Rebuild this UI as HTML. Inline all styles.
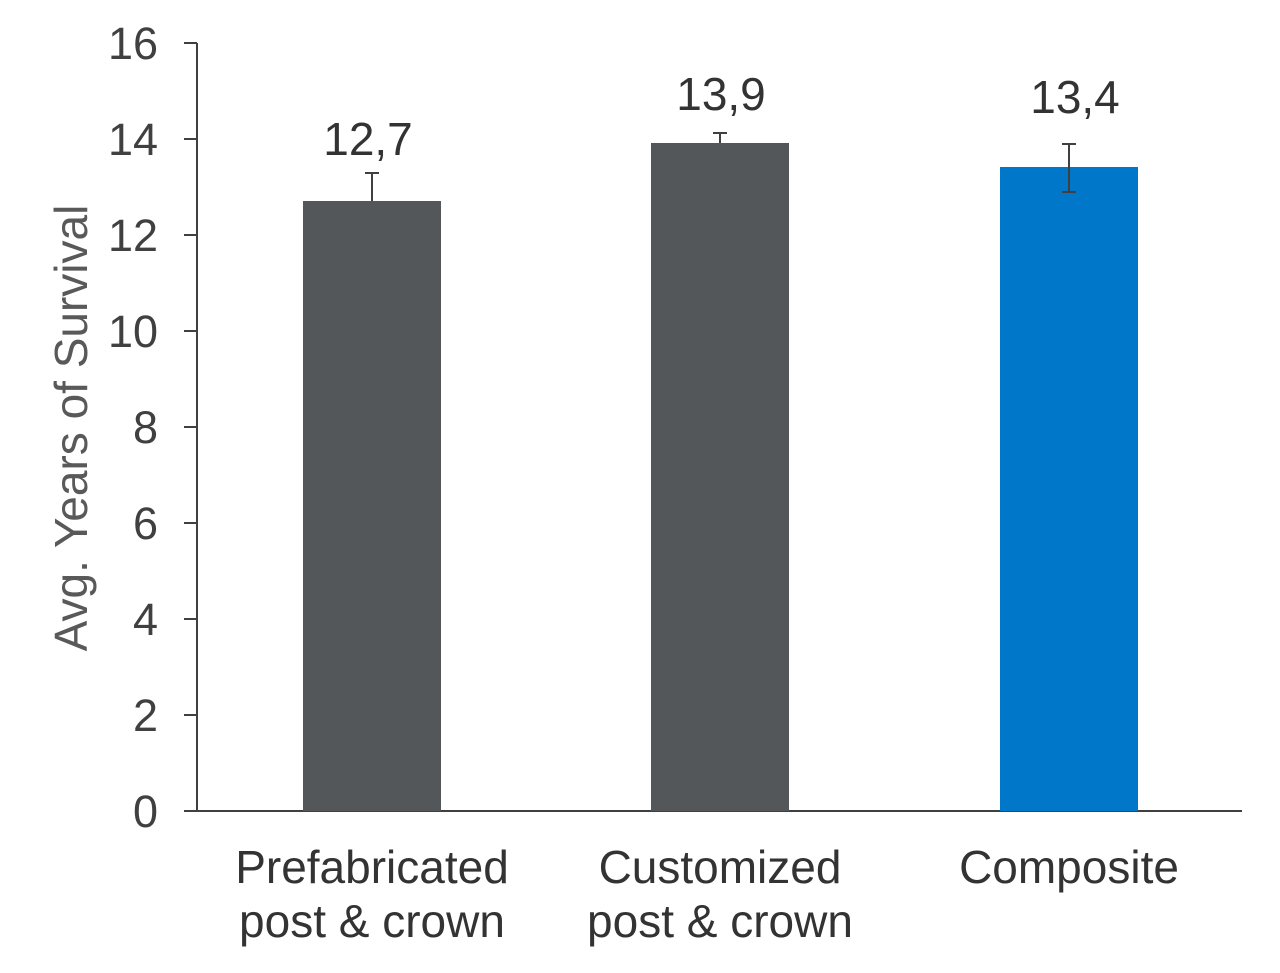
<!DOCTYPE html>
<html><head><style>body{margin:0;background:#fff}</style></head><body>
<svg width="1280" height="968" xmlns="http://www.w3.org/2000/svg" font-family="Liberation Sans, sans-serif">
<rect width="1280" height="968" fill="#fff"/>
<g stroke="#404040" stroke-width="2">
<line x1="197" y1="43" x2="197" y2="812"/>
<line x1="184" y1="811" x2="1242" y2="811"/>
<line x1="184" y1="43" x2="197" y2="43"/><line x1="184" y1="139" x2="197" y2="139"/>
<line x1="184" y1="235" x2="197" y2="235"/><line x1="184" y1="331" x2="197" y2="331"/>
<line x1="184" y1="427" x2="197" y2="427"/><line x1="184" y1="523" x2="197" y2="523"/>
<line x1="184" y1="619" x2="197" y2="619"/><line x1="184" y1="715" x2="197" y2="715"/>
</g>
<g font-size="45" fill="#404040" text-anchor="end">
<text x="158" y="59">16</text><text x="158" y="155">14</text><text x="158" y="251">12</text>
<text x="158" y="347">10</text><text x="158" y="443">8</text><text x="158" y="539">6</text>
<text x="158" y="635">4</text><text x="158" y="731">2</text><text x="158" y="827">0</text>
</g>
<text transform="translate(87,428) rotate(-90)" font-size="46" fill="#595959" text-anchor="middle">Avg. Years of Survival</text>
<rect x="303" y="201" width="138" height="610" fill="#53575a"/>
<rect x="651" y="143" width="138" height="668" fill="#53575a"/>
<rect x="1000" y="167" width="138" height="644" fill="#0077c8"/>
<g stroke="#404040" stroke-width="2">
<line x1="372" y1="173" x2="372" y2="201"/><line x1="365" y1="173" x2="379" y2="173"/>
<line x1="720" y1="133" x2="720" y2="143"/><line x1="713" y1="133" x2="727" y2="133"/>
<line x1="1069" y1="144" x2="1069" y2="192"/><line x1="1062" y1="144" x2="1076" y2="144"/><line x1="1062" y1="192" x2="1076" y2="192"/>
</g>
<g font-size="46" fill="#333" text-anchor="middle">
<text x="368" y="155">12,7</text><text x="721" y="110">13,9</text><text x="1075" y="113">13,4</text>
</g>
<g font-size="46" fill="#333" text-anchor="middle">
<text x="372" y="883">Prefabricated</text><text x="372" y="937">post &amp; crown</text>
<text x="720" y="883">Customized</text><text x="720" y="937">post &amp; crown</text>
<text x="1069" y="883">Composite</text>
</g>
</svg>
</body></html>
